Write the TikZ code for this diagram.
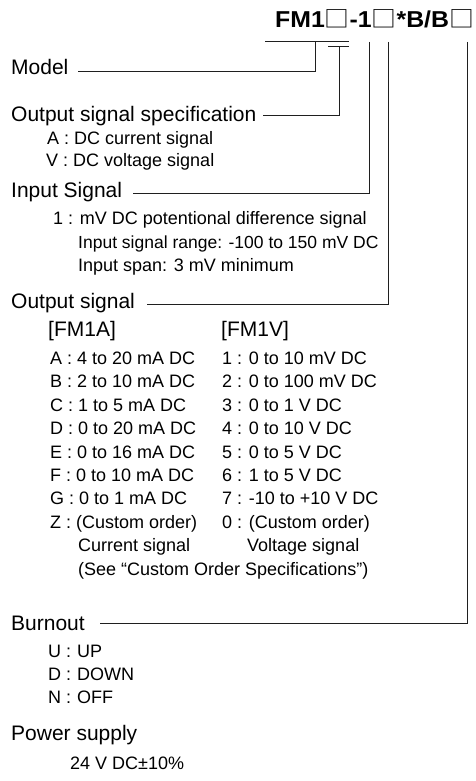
\documentclass[tikz,border=0pt]{standalone}
\usepackage{fontspec}
\setmainfont{Liberation Sans}
\newfontfamily\cjkfont{Noto Sans CJK JP}
\newcommand{\sq}{{\cjkfont\mdseries □}}
\begin{document}
\begin{tikzpicture}[x=1pt,y=-1pt,
  head/.style={anchor=base west,inner sep=0pt,font=\fontsize{21}{25}\selectfont},
  item/.style={anchor=base west,inner sep=0pt,font=\fontsize{18}{21}\selectfont},
  conn/.style={line width=1pt,black!88}]
\useasboundingbox (0,0) rectangle (475,781);
% title
\node[anchor=base west,inner sep=0pt,font=\fontsize{23}{27}\selectfont\bfseries] (title) at (275,28) {\scalebox{1.08}[1]{FM1\sq-1\sq*B/B\sq}};
% headings
\node[head] (model) at (11,75) {Model};
\node[head] (osspec) at (11,121.5) {Output signal specification};
\node[item] (osA) at (47,144) {A : DC current signal};
\node[item] (osV) at (46,166) {V : DC voltage signal};
\node[head] (insig) at (11,197) {Input Signal};
\node[item] (in1) at (53,224) {1 : mV DC potentional difference signal};
\node[item,font=\fontsize{17.5}{21}\selectfont] (in2) at (78,248) {Input signal range: -100 to 150 mV DC};
\node[item] (in3) at (78,271) {Input span: 3 mV minimum};
\node[head] (outsig) at (11,308) {Output signal};
\node[head] (fma) at (48,336) {[FM1A]};
\node[head] (fmv) at (221,336) {[FM1V]};
\foreach \t [count=\i from 0] in {A : 4 to 20 mA DC,B : 2 to 10 mA DC,C : 1 to 5 mA DC,D : 0 to 20 mA DC,E : 0 to 16 mA DC,F : 0 to 10 mA DC,G : 0 to 1 mA DC,Z : (Custom order)}
  \node[item] (la\i) at (50,364.5+23.4*\i) {\t};
\foreach \t [count=\i from 0] in {1 : 0 to 10 mV DC,2 : 0 to 100 mV DC,3 : 0 to 1 V DC,4 : 0 to 10 V DC,5 : 0 to 5 V DC,6 : 1 to 5 V DC,7 : -10 to +10 V DC,0 : (Custom order)}
  \node[item] (lv\i) at (222,364.5+23.4*\i) {\t};
\node[item] (cur) at (78,551.7) {Current signal};
\node[item] (vol) at (247,551.7) {Voltage signal};
\node[item] (see) at (78,575.1) {(See “Custom Order Specifications”)};
\node[head] (burn) at (11,630) {Burnout};
\node[item] (bu) at (48,657) {U :};
\node[item] (bd) at (48,680) {D :};
\node[item] (bn) at (48,703) {N :};
\node[item] (buv) at (77,657) {UP};
\node[item] (bdv) at (77,680) {DOWN};
\node[item] (bnv) at (77,703) {OFF};
\node[head] (pow) at (11,740) {Power supply};
\node[item] (powv) at (70,769) {24 V DC±10\%};
% connector coordinates
\coordinate (m0) at (78,72);
\coordinate (m1) at (315.7,72);
\coordinate (m2) at (315.7,42);
\coordinate (u0) at (265,42);
\coordinate (u1) at (349,42);
\coordinate (t0) at (328,47);
\coordinate (t1) at (349,47);
\coordinate (t2) at (339,47);
\coordinate (t3) at (339,116);
\coordinate (t4) at (263,116);
\coordinate (i0) at (369,42);
\coordinate (i1) at (369,193);
\coordinate (i2) at (133,193);
\coordinate (o0) at (388,42);
\coordinate (o1) at (388,304);
\coordinate (o2) at (147,304);
\coordinate (b0) at (467,42);
\coordinate (b1) at (467,623);
\coordinate (b2) at (100,623);
\draw[conn] (m0) -- (m1) -- (m2);
\draw[conn] (u0) -- (u1);
\draw[conn] (t0) -- (t1);
\draw[conn] (t2) -- (t3) -- (t4);
\draw[conn] (i0) -- (i1) -- (i2);
\draw[conn] (o0) -- (o1) -- (o2);
\draw[conn] (b0) -- (b1) -- (b2);
\end{tikzpicture}
\end{document}
